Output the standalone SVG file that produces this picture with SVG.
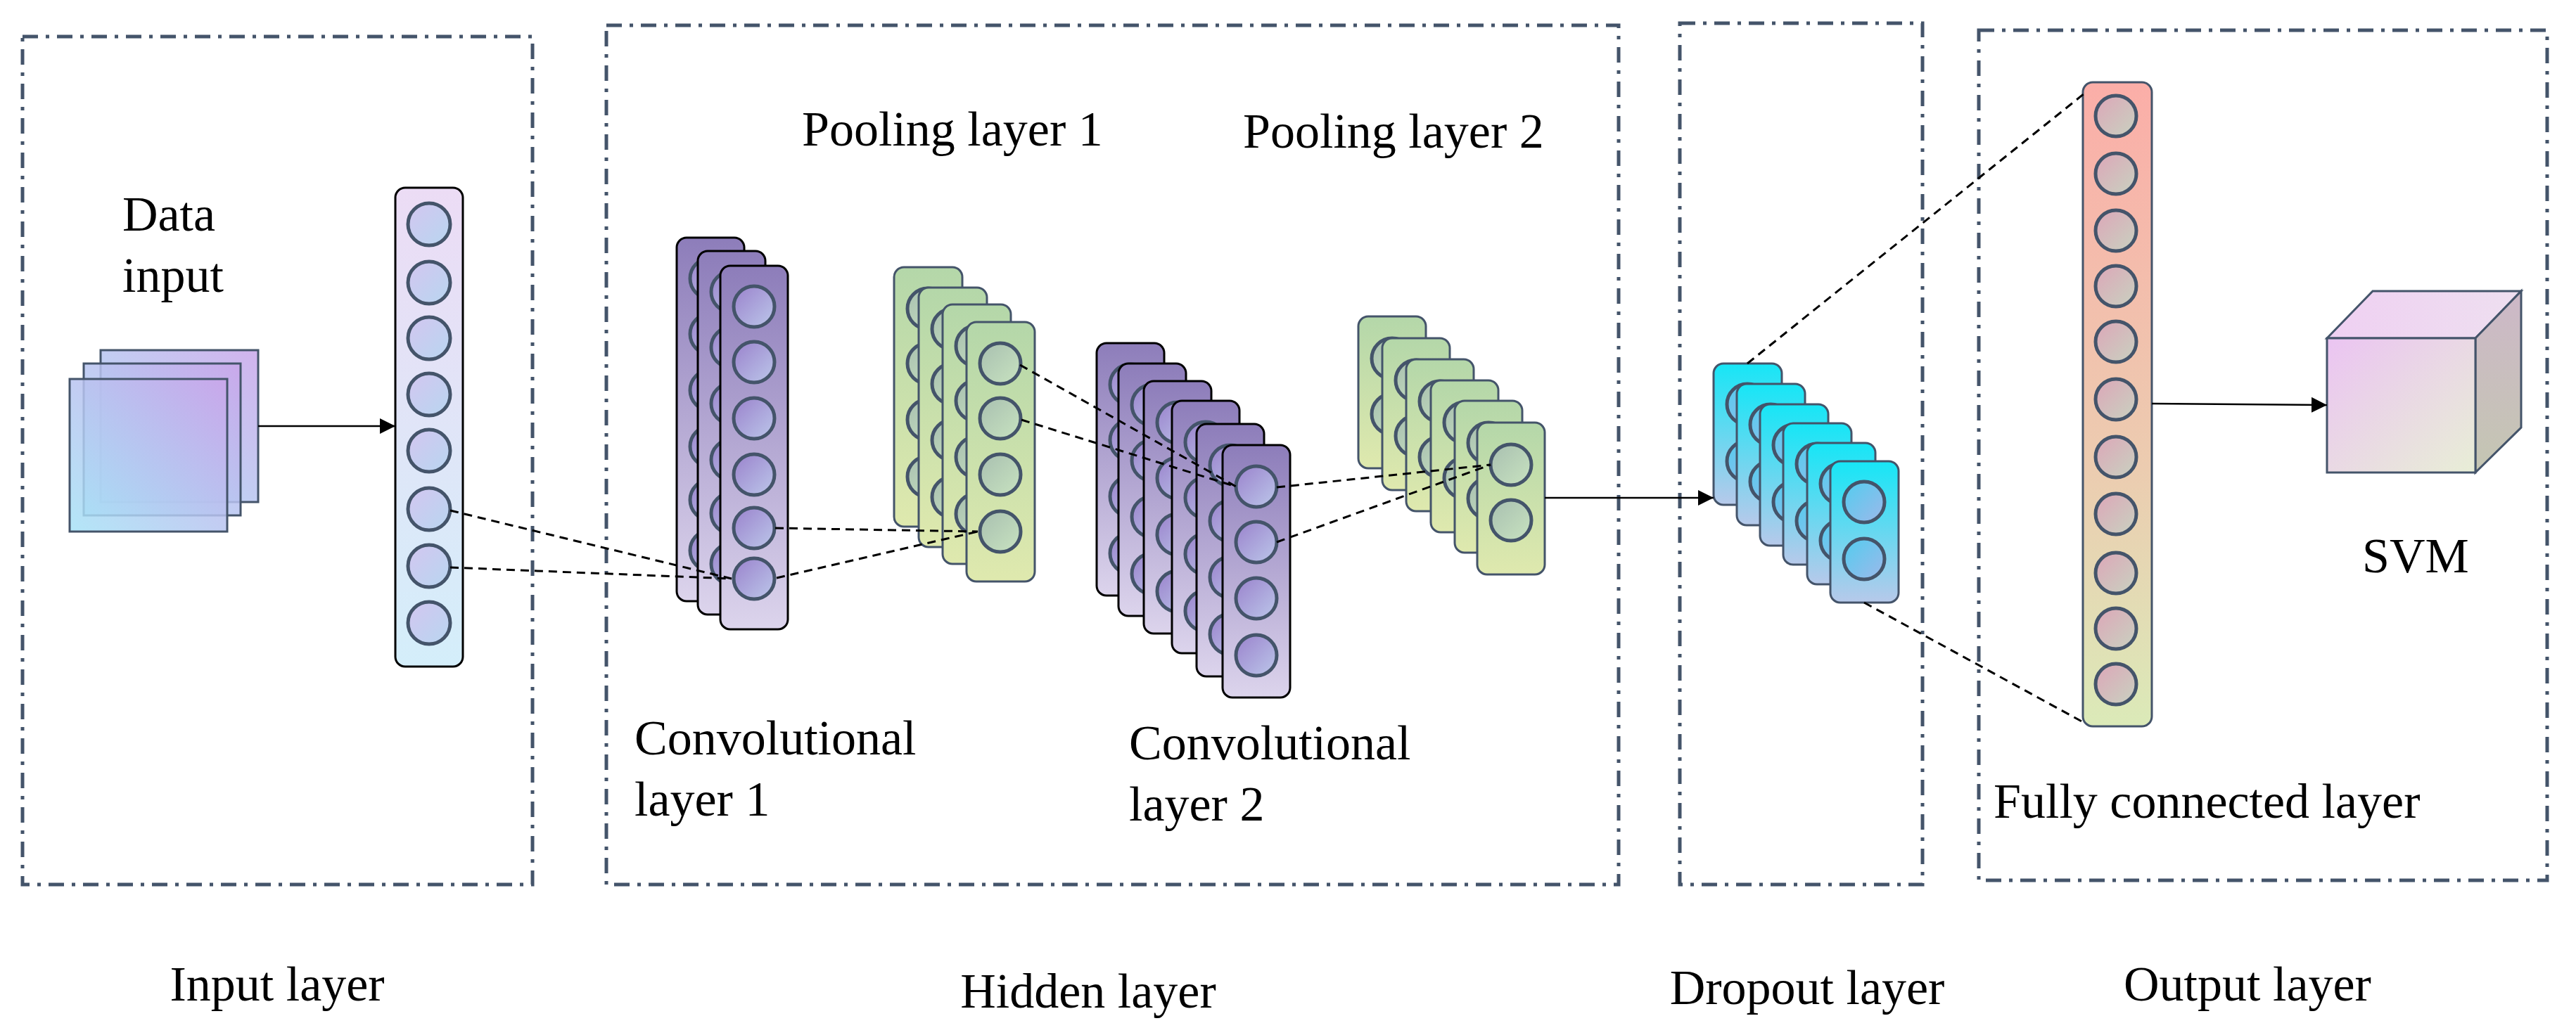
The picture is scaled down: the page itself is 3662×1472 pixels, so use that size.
<svg xmlns="http://www.w3.org/2000/svg" xmlns:xlink="http://www.w3.org/1999/xlink" width="3662" height="1472" viewBox="0 0 3662 1472">
<style>
.box{fill:none;stroke:#44546a;stroke-width:5;stroke-dasharray:22 11 5 11}
.t{font-family:"Liberation Serif","Times New Roman",serif;font-size:70px;fill:#000}
.c{stroke:#44546a;stroke-width:5}
.dash{fill:none;stroke:#000;stroke-width:3;stroke-dasharray:12 8}
.line{fill:none;stroke:#000;stroke-width:2.5}
</style>
<defs>
<linearGradient id="gConv" x1="0" y1="0" x2="0" y2="1"><stop offset="0" stop-color="#8d7dba"/><stop offset="1" stop-color="#dcd4ec"/></linearGradient>
<linearGradient id="gPool" x1="0" y1="0" x2="0" y2="1"><stop offset="0" stop-color="#b4d7a9"/><stop offset="1" stop-color="#dfe9ae"/></linearGradient>
<linearGradient id="gDrop" x1="0" y1="0" x2="0" y2="1"><stop offset="0" stop-color="#16e6f6"/><stop offset="1" stop-color="#b7c9ea"/></linearGradient>
<linearGradient id="gFC" x1="0" y1="0" x2="0" y2="1"><stop offset="0" stop-color="#fbaea8"/><stop offset="0.6" stop-color="#ecccb0"/><stop offset="1" stop-color="#dbeab8"/></linearGradient>
<linearGradient id="gIn" x1="0" y1="0" x2="0" y2="1"><stop offset="0" stop-color="#ecdcf5"/><stop offset="1" stop-color="#d4eefa"/></linearGradient>
<linearGradient id="gCirP" x1="0" y1="0" x2="1" y2="1"><stop offset="0" stop-color="#9a82cc"/><stop offset="1" stop-color="#bcc7ea"/></linearGradient>
<linearGradient id="gCirG" x1="0" y1="0" x2="1" y2="1"><stop offset="0" stop-color="#a8bfb0"/><stop offset="1" stop-color="#c8e3c0"/></linearGradient>
<linearGradient id="gCirI" x1="0" y1="0" x2="1" y2="1"><stop offset="0" stop-color="#d3c6f0"/><stop offset="1" stop-color="#b8d6f0"/></linearGradient>
<linearGradient id="gCirD" x1="0" y1="0" x2="1" y2="1"><stop offset="0" stop-color="#52cdef"/><stop offset="1" stop-color="#9db8ea"/></linearGradient>
<linearGradient id="gCirF" x1="0" y1="0" x2="1" y2="1"><stop offset="0" stop-color="#dda6b8"/><stop offset="1" stop-color="#c8d2c0"/></linearGradient>
<linearGradient id="gSq" x1="1" y1="0" x2="0" y2="1"><stop offset="0" stop-color="#c9a6ea" stop-opacity="0.85"/><stop offset="1" stop-color="#a6e2f6" stop-opacity="0.85"/></linearGradient>
<linearGradient id="gCube" x1="0" y1="0" x2="1" y2="1"><stop offset="0" stop-color="#ebc4f2"/><stop offset="1" stop-color="#e8eed6"/></linearGradient>
<linearGradient id="gCubeTop" x1="0" y1="0" x2="1" y2="0"><stop offset="0" stop-color="#efd0f2"/><stop offset="1" stop-color="#eedff0"/></linearGradient>
<linearGradient id="gCubeSide" x1="0" y1="0" x2="0" y2="1"><stop offset="0" stop-color="#cdb8c8"/><stop offset="1" stop-color="#c4c6b2"/></linearGradient>
<marker id="arr" viewBox="0 0 10 10" refX="10" refY="5" markerWidth="10" markerHeight="10" markerUnits="userSpaceOnUse" orient="auto"><path d="M0,0L10,5L0,10z" fill="#000"/></marker>
<marker id="arrB" viewBox="0 0 10 10" refX="10" refY="5" markerWidth="22" markerHeight="22" markerUnits="userSpaceOnUse" orient="auto"><path d="M0,0L10,5L0,10z" fill="#000"/></marker>
<g id="sConv">
<rect x="0" y="0" width="96" height="517" rx="14" fill="url(#gConv)" stroke="#000" stroke-width="3"/>
<g class="c" fill="url(#gCirP)"><circle cx="48" cy="58" r="29"/><circle cx="48" cy="137" r="29"/><circle cx="48" cy="217" r="29"/><circle cx="48" cy="297" r="29"/><circle cx="48" cy="373" r="29"/><circle cx="48" cy="445" r="29"/></g>
</g>
<g id="sPool1">
<rect x="0" y="0" width="97" height="369" rx="14" fill="url(#gPool)" stroke="#44546a" stroke-width="3"/>
<g class="c" fill="url(#gCirG)"><circle cx="48" cy="59" r="29"/><circle cx="48" cy="137" r="29"/><circle cx="48" cy="217" r="29"/><circle cx="48" cy="298" r="29"/></g>
</g>
<g id="sConv2">
<rect x="0" y="0" width="96" height="359" rx="14" fill="url(#gConv)" stroke="#000" stroke-width="3"/>
<g class="c" fill="url(#gCirP)"><circle cx="48" cy="59" r="29"/><circle cx="48" cy="138" r="29"/><circle cx="48" cy="218" r="29"/><circle cx="48" cy="299" r="29"/></g>
</g>
<g id="sPool2">
<rect x="0" y="0" width="96" height="216" rx="14" fill="url(#gPool)" stroke="#44546a" stroke-width="3"/>
<g class="c" fill="url(#gCirG)"><circle cx="48" cy="60" r="29"/><circle cx="48" cy="139" r="29"/></g>
</g>
<g id="sDrop">
<rect x="0" y="0" width="97" height="201" rx="14" fill="url(#gDrop)" stroke="#44546a" stroke-width="3"/>
<g class="c" fill="url(#gCirD)"><circle cx="48" cy="58" r="29"/><circle cx="48" cy="139" r="29"/></g>
</g>
</defs>
<rect width="3662" height="1472" fill="#fff"/>

<g id="boxes">
<rect class="box" x="32" y="52" width="725" height="1206"/>
<rect class="box" x="862" y="36" width="1439" height="1222"/>
<rect class="box" x="2388" y="33" width="345" height="1225"/>
<rect class="box" x="2813" y="43" width="808" height="1209"/>
</g>

<g id="data-input">
<rect x="143" y="498" width="224" height="216" fill="url(#gSq)" stroke="#44546a" stroke-width="3"/>
<rect x="119" y="517" width="223" height="216" fill="url(#gSq)" stroke="#44546a" stroke-width="3"/>
<rect x="99" y="539" width="224" height="217" fill="url(#gSq)" stroke="#44546a" stroke-width="3"/>
<text class="t" x="174" y="328">Data</text>
<text class="t" x="174" y="415">input</text>
</g>

<g id="input-column">
<rect x="562" y="267" width="96" height="681" rx="14" fill="url(#gIn)" stroke="#000" stroke-width="3"/>
<g class="c" fill="url(#gCirI)">
<circle cx="610" cy="319" r="30"/><circle cx="610" cy="402" r="30"/><circle cx="610" cy="481" r="30"/><circle cx="610" cy="561" r="30"/><circle cx="610" cy="641" r="30"/><circle cx="610" cy="724" r="30"/><circle cx="610" cy="805" r="30"/><circle cx="610" cy="886" r="30"/>
</g>
</g>

<g id="conv1">
<use xlink:href="#sConv" x="962" y="338"/>
<use xlink:href="#sConv" x="992" y="357"/>
<use xlink:href="#sConv" x="1024" y="378"/>
<text class="t" x="902" y="1073">Convolutional</text>
<text class="t" x="902" y="1160">layer 1</text>
</g>

<g id="pool1">
<use xlink:href="#sPool1" x="1271" y="380"/>
<use xlink:href="#sPool1" x="1306" y="409"/>
<use xlink:href="#sPool1" x="1340" y="433"/>
<use xlink:href="#sPool1" x="1374" y="458"/>
<text class="t" x="1140" y="207">Pooling layer 1</text>
</g>

<g id="conv2">
<use xlink:href="#sConv2" x="1559" y="488"/>
<use xlink:href="#sConv2" x="1590" y="517"/>
<use xlink:href="#sConv2" x="1626" y="542"/>
<use xlink:href="#sConv2" x="1666" y="570"/>
<use xlink:href="#sConv2" x="1701" y="603"/>
<use xlink:href="#sConv2" x="1738" y="633"/>
<text class="t" x="1605" y="1080">Convolutional</text>
<text class="t" x="1605" y="1167">layer 2</text>
</g>

<g id="pool2">
<use xlink:href="#sPool2" x="1931" y="450"/>
<use xlink:href="#sPool2" x="1965" y="481"/>
<use xlink:href="#sPool2" x="1999" y="511"/>
<use xlink:href="#sPool2" x="2034" y="541"/>
<use xlink:href="#sPool2" x="2068" y="570"/>
<use xlink:href="#sPool2" x="2100" y="601"/>
<text class="t" x="1767" y="210">Pooling layer 2</text>
</g>

<g id="dropout">
<use xlink:href="#sDrop" x="2436" y="517"/>
<use xlink:href="#sDrop" x="2469" y="546"/>
<use xlink:href="#sDrop" x="2502" y="575"/>
<use xlink:href="#sDrop" x="2535" y="602"/>
<use xlink:href="#sDrop" x="2569" y="630"/>
<use xlink:href="#sDrop" x="2602" y="656"/>
</g>

<g id="fully-connected">
<rect x="2961" y="117" width="98" height="916" rx="14" fill="url(#gFC)" stroke="#44546a" stroke-width="3"/>
<g class="c" fill="url(#gCirF)">
<circle cx="3008" cy="165" r="29"/><circle cx="3008" cy="247" r="29"/><circle cx="3008" cy="328" r="29"/><circle cx="3008" cy="407" r="29"/><circle cx="3008" cy="486" r="29"/><circle cx="3008" cy="568" r="29"/><circle cx="3008" cy="650" r="29"/><circle cx="3008" cy="731" r="29"/><circle cx="3008" cy="815" r="29"/><circle cx="3008" cy="894" r="29"/><circle cx="3008" cy="973" r="29"/>
</g>
<text class="t" x="2834" y="1163">Fully connected layer</text>
</g>

<g id="svm">
<polygon points="3308,481 3373,414 3584,414 3519,481" fill="url(#gCubeTop)" stroke="#44546a" stroke-width="3"/>
<polygon points="3519,481 3584,414 3584,608 3519,672" fill="url(#gCubeSide)" stroke="#44546a" stroke-width="3"/>
<rect x="3308" y="481" width="211" height="191" fill="url(#gCube)" stroke="#44546a" stroke-width="3"/>
<text class="t" x="3358" y="814">SVM</text>
</g>

<g id="labels">
<text class="t" x="394" y="1423" text-anchor="middle">Input layer</text>
<text class="t" x="1547" y="1433" text-anchor="middle">Hidden layer</text>
<text class="t" x="2569" y="1428" text-anchor="middle">Dropout layer</text>
<text class="t" x="3195" y="1423" text-anchor="middle">Output layer</text>
</g>

<g id="connectors">
<line class="line" x1="367" y1="606" x2="562" y2="606" marker-end="url(#arrB)"/>
<line class="line" x1="2196" y1="708" x2="2436" y2="708" marker-end="url(#arrB)"/>
<line class="line" x1="3059" y1="574" x2="3308" y2="576" marker-end="url(#arrB)"/>
<path class="dash" d="M640,726 L1040,823"/>
<path class="dash" d="M640,807 L1040,823"/>
<path class="dash" d="M1102,751 L1390,756"/>
<path class="dash" d="M1104,822 L1390,756"/>
<path class="dash" d="M1450,519 L1757,692"/>
<path class="dash" d="M1452,597 L1757,692"/>
<path class="dash" d="M1815,693 L2119,661"/>
<path class="dash" d="M1815,771 L2119,661"/>
<path class="dash" d="M2484,517 L2963,133"/>
<path class="dash" d="M2650,857 L2963,1028"/>
</g>
</svg>
